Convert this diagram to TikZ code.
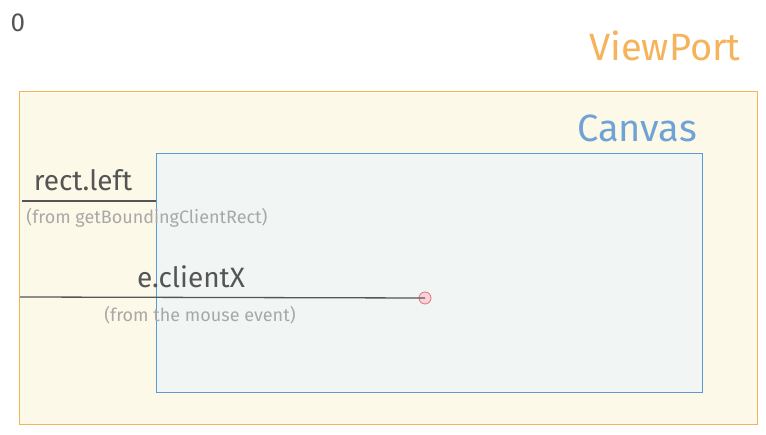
\documentclass[tikz,border=0pt]{standalone}
\usepackage{fontspec}
\setmainfont{Fira Sans}
\definecolor{vporange}{HTML}{F5B35C}
\definecolor{vpfill}{HTML}{FDF9E8}
\definecolor{cvblue}{HTML}{6FA3D6}
\definecolor{cvstroke}{HTML}{5B9BD5}
\definecolor{cvfill}{HTML}{F1F6F4}
\definecolor{ink}{HTML}{555555}
\definecolor{note}{HTML}{A8A8A8}
\definecolor{dotred}{HTML}{E8707A}
\definecolor{dotfill}{HTML}{F7D3DC}
\tikzset{
  title/.style={font=\fontsize{38}{42}\selectfont, inner sep=0pt},
  label/.style={font=\fontsize{28}{32}\selectfont, text=ink, inner sep=0pt},
  notelabel/.style={font=\fontsize{18}{21}\selectfont, text=note, inner sep=0pt},
  box/.style={draw, line width=1pt, inner sep=0pt},
  measure/.style={draw=ink, line width=1.3pt}
}
\begin{document}
\begin{tikzpicture}[x=1pt,y=-1pt]
\useasboundingbox (0,0) rectangle (766,435);
\fill[white] (0,0) rectangle (766,435);
\node[box, draw=vporange, fill=vpfill, minimum width=738pt, minimum height=333pt, anchor=north west] (viewport) at (19,91) {};
\node[box, draw=cvstroke, fill=cvfill, minimum width=546pt, minimum height=239pt, anchor=north west] (canvas) at (156,153) {};
\node[text=ink, font=\fontsize{26}{28}\selectfont, inner sep=0pt] (zero) at (18,23) {0};
\node[title, text=vporange] (vptitle) at (665,46) {ViewPort};
\node[title, text=cvblue] (cvtitle) at (637,128) {Canvas};
\coordinate (rl) at (22,201);
\coordinate (cx) at (20,297);
\node[circle, draw=dotred, fill=dotfill, line width=0.8pt, minimum size=12pt, inner sep=0pt] (mouse) at (425,298) {};
\draw[measure] (rl) -- (rl -| canvas.west);
\draw[measure] (cx) -- (mouse.center);
\node[label] (rectleft) at (83,180) {rect.left};
\node[notelabel] (rlnote) at (147,218) {(from getBoundingClientRect)};
\node[label] (clientx) at (191,277) {e.clientX};
\node[notelabel] (cxnote) at (200,315) {(from the mouse event)};
\end{tikzpicture}
\end{document}
